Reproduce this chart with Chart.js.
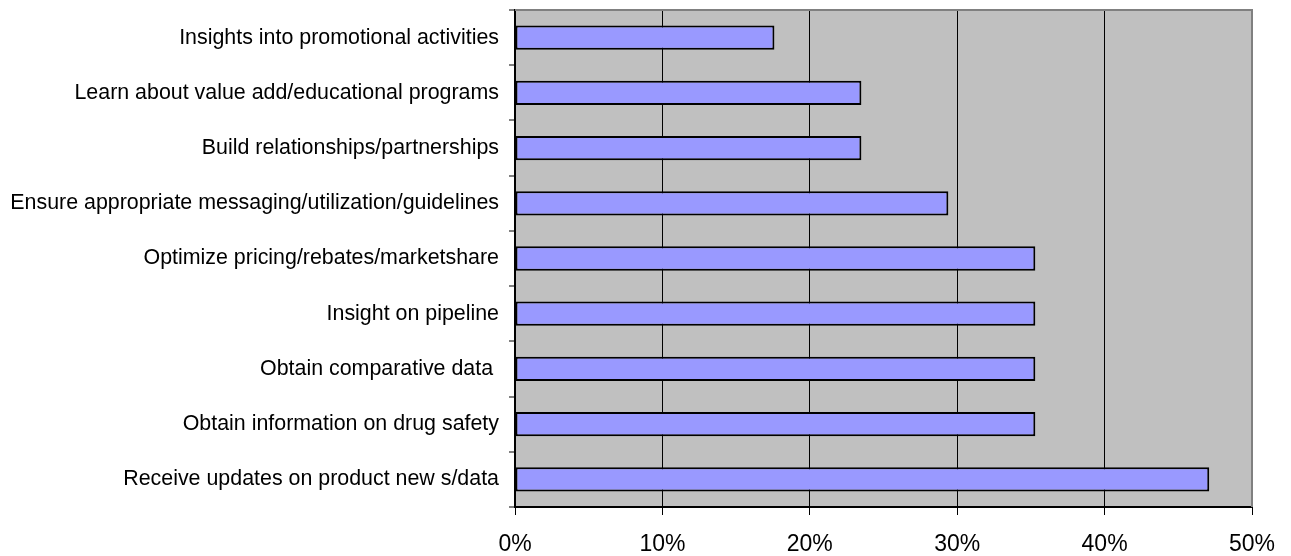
<!DOCTYPE html>
<html>
<head>
<meta charset="utf-8">
<script src="https://cdn.jsdelivr.net/npm/chart.js@4/dist/chart.umd.min.js"></script>
<style>
html,body{margin:0;padding:0;background:#fff;}
#wrap{width:1291px;height:556px;position:relative;}
</style>
</head>
<body>
<div id="wrap"><canvas id="c" width="1291" height="556"></canvas></div>
<script>
const categories = [
  "Insights into promotional activities",
  "Learn about value add/educational programs",
  "Build relationships/partnerships",
  "Ensure appropriate messaging/utilization/guidelines",
  "Optimize pricing/rebates/marketshare",
  "Insight on pipeline",
  "Obtain comparative data ",
  "Obtain information on drug safety",
  "Receive updates on product new s/data"
];
const values = [17.6, 23.5, 23.5, 29.4, 35.3, 35.3, 35.3, 35.3, 47.1];
const xTicks = [0, 10, 20, 30, 40, 50];

const plotDeco = {
  id: 'plotDeco',
  beforeDraw(chart) {
    const {ctx, chartArea: a} = chart;
    ctx.save();
    ctx.fillStyle = '#c0c0c0';
    ctx.fillRect(a.left, a.top, a.right - a.left, a.bottom - a.top);
    ctx.restore();
  },
  afterDatasetsDraw(chart) {
    const {ctx, chartArea: a} = chart;
    ctx.save();
    ctx.strokeStyle = '#808080';
    ctx.lineWidth = 2;
    ctx.beginPath();
    ctx.moveTo(a.left, a.top);
    ctx.lineTo(a.right, a.top);
    ctx.lineTo(a.right, a.bottom);
    ctx.stroke();
    ctx.restore();
  }
};

new Chart(document.getElementById('c'), {
  type: 'bar',
  data: {
    labels: categories,
    datasets: [{
      data: values,
      backgroundColor: '#9999ff',
      borderColor: '#000000',
      borderWidth: 2,
      borderSkipped: false,
      categoryPercentage: 1,
      barPercentage: 0.44
    }]
  },
  options: {
    indexAxis: 'y',
    responsive: false,
    animation: false,
    devicePixelRatio: 1,
    layout: {padding: {top: 10, right: 39, left: 0, bottom: 0}},
    plugins: {legend: {display: false}, tooltip: {enabled: false}},
    scales: {
      x: {
        type: 'linear',
        min: 0, max: 50,
        afterBuildTicks(scale) { scale.ticks = xTicks.map(v => ({value: v})); },
        afterFit(scale) { scale.height = 49; scale.paddingLeft = 0; scale.paddingRight = 0; },
        border: {display: true, color: '#000', width: 2},
        grid: {
          color: ctx => (ctx.tick && ctx.tick.value === 50) ? 'rgba(0,0,0,0)' : '#000',
          tickColor: '#000',
          lineWidth: 1,
          tickLength: 8,
          drawTicks: true
        },
        ticks: {
          color: '#000',
          padding: 16,
          font: {family: '"Liberation Sans", Arial, sans-serif', size: 23},
          callback: v => v + '%',
          maxRotation: 0
        }
      },
      y: {
        type: 'category',
        offset: true,
        afterFit(scale) { scale.width = 515; scale.paddingTop = 0; scale.paddingBottom = 0; },
        border: {display: true, color: '#000', width: 2},
        grid: {
          offset: true,
          drawOnChartArea: false,
          drawTicks: true,
          tickLength: 6,
          lineWidth: 2,
          color: '#808080',
          tickColor: '#808080'
        },
        ticks: {
          color: '#000',
          padding: 10,
          font: {family: '"Liberation Sans", Arial, sans-serif', size: 21.4}
        }
      }
    }
  },
  plugins: [plotDeco]
});
</script>
</body>
</html>
